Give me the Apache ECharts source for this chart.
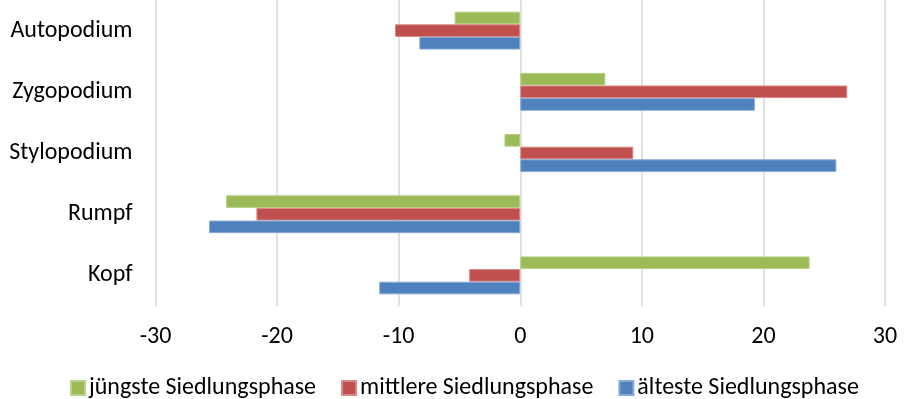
<!DOCTYPE html>
<html>
<head>
<meta charset="utf-8">
<script src="https://cdn.jsdelivr.net/npm/echarts@6/dist/echarts.min.js"></script>
<style>
html,body{margin:0;padding:0;background:#fff;}
#chart{width:905px;height:399px;}
</style>
</head>
<body>
<div id="chart"></div>
<script>
const categories = ['Kopf', 'Rumpf', 'Stylopodium', 'Zygopodium', 'Autopodium'];
const seriesNames = ['jüngste Siedlungsphase', 'mittlere Siedlungsphase', 'älteste Siedlungsphase'];
const juengste = [23.8, -24.2, -1.3, 7.0, -5.4];
const mittlere = [-4.2, -21.7, 9.3, 26.9, -10.3];
const aelteste = [-11.6, -25.6, 26.0, 19.3, -8.3];
const xTicks = [-30, -20, -10, 0, 10, 20, 30];

const FONT = 'Carlito, Calibri, Lato, sans-serif';
const colors = ['#9BBB59', '#C0504D', '#4F81BD'];
const borders = ['#B9D18A', '#D88A88', '#8AAAD6'];

const chart = echarts.init(document.getElementById('chart'), null, {renderer: 'canvas'});
const values = [juengste, mittlere, aelteste];

chart.setOption({
  animation: false,
  backgroundColor: '#fff',
  color: colors,
  textStyle: {fontFamily: FONT},
  grid: {left: 155.5, right: 20, top: -3, height: 309, containLabel: false},
  xAxis: {
    type: 'value',
    min: xTicks[0],
    max: xTicks[xTicks.length - 1],
    interval: 10,
    axisLine: {show: false},
    axisTick: {show: false},
    splitLine: {show: true, lineStyle: {color: '#D9D9D9', width: 1.5}},
    axisLabel: {color: '#000', fontSize: 24, fontFamily: FONT, margin: 19}
  },
  yAxis: {
    type: 'category',
    data: categories,
    axisLine: {show: false},
    axisTick: {show: false},
    splitLine: {show: false},
    axisLabel: {color: '#000', fontSize: 24, fontFamily: FONT, margin: 23}
  },
  legend: {
    bottom: -6,
    left: 65,
    itemWidth: 14,
    itemHeight: 14,
    itemGap: 25,
    icon: 'rect',
    textStyle: {color: '#000', fontSize: 24, fontFamily: FONT, padding: [0, 0, 0, -1]},
    data: seriesNames
  },
  series: seriesNames.map((name, i) => ({
    name: name,
    type: 'bar',
    data: values[i],
    barGap: '0%',
    barCategoryGap: '38%',
    itemStyle: {color: colors[i], borderColor: borders[i], borderWidth: 1}
  }))
});
</script>
</body>
</html>
